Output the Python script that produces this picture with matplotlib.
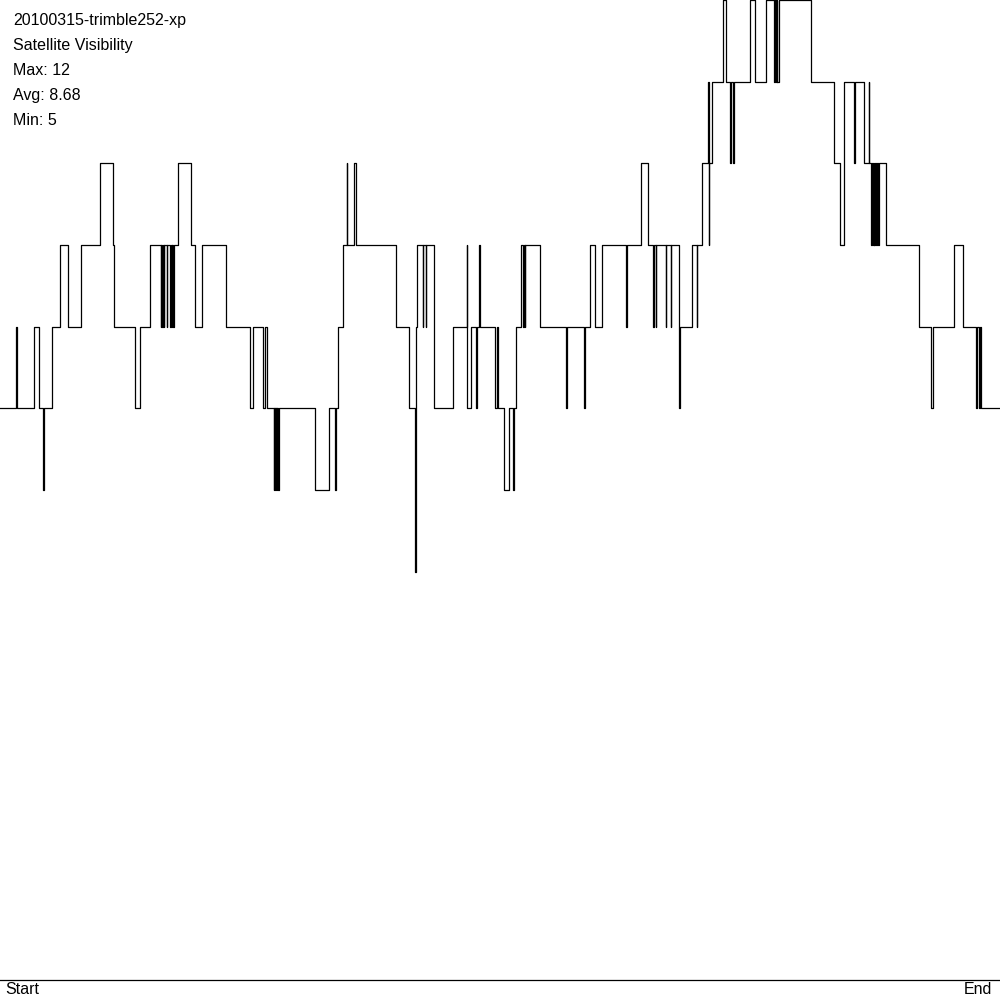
import matplotlib
matplotlib.use("Agg")
import matplotlib.pyplot as plt

# Satellite count changes: (time, count) - count holds from that time on
t_change = [
    0, 16, 16.8, 34.3, 39.3, 43.3, 43.8, 52.3, 60.3, 68.3, 81.3, 100.3, 113.3, 114.3,
    135.3, 140.3, 150.3,
    160.5, 161.0, 162.0, 162.5, 163.5, 164.0, 167.0, 167.4, 170.3, 170.8, 171.7, 172.2, 173.3, 173.7,
    178.3, 191.3, 195.3, 202.3, 226.3, 250.3, 253.3, 263.3, 265.3, 267.3,
    273.5, 274.2, 274.5, 275.2, 275.5, 276.2, 276.5, 277.2, 277.5, 278.5,
    315.3, 329.3, 335.3, 336.0, 338.3, 343.3, 346.5, 347.3, 354.3, 356.0,
    395.7, 409.3, 415.0, 415.6, 417.3, 423.0, 423.4, 426.0, 426.4, 433.7,
    452.7, 466.7, 467.0, 470.7, 475.5, 476.5, 478.7, 480.3,
    495.3, 497.3, 497.8, 504.3, 509.3, 513.3, 513.6, 516.3, 521.3,
    523.3, 524.3, 524.8, 525.3, 540.3, 566.3, 566.6, 584.0, 584.7, 590.3, 595.3,
    602.3, 625.7, 627.3, 641.3, 648.3,
    652.9, 653.6, 655.6, 656.3, 665.7, 666.0, 670.7, 671.0, 679.3, 679.6,
    692.3, 696.5, 697.2, 702.0, 708.3, 708.5, 708.8, 712.3, 723.3, 726.3,
    729.8, 730.6, 733.0, 734.0, 749.7, 755.3, 765.7,
    774.0, 775.0, 775.5, 776.5, 777.0, 778.7, 811.3, 834.3, 840.3, 844.3,
    854.3, 854.6, 864.3, 868.7, 869.0,
    871.0, 872.0, 872.5, 873.5, 874.0, 875.0, 875.5, 876.7, 878.3, 878.6,
    885.7, 919.3, 931.0, 933.0, 954.3, 963.3, 975.7, 977.3, 979.0, 979.7, 981.3, 1000,
]
sats = [
    7, 8, 7, 8, 7, 6, 7, 8, 9, 8, 9, 10, 9, 8,
    7, 8, 9,
    8, 9, 8, 9, 8, 9, 8, 9, 8, 9, 8, 9, 8, 9,
    10, 9, 8, 9, 8, 7, 8, 7, 8, 7,
    6, 7, 6, 7, 6, 7, 6, 7, 6, 7,
    6, 7, 6, 7, 8, 9, 10, 9, 10, 9,
    8, 7, 5, 8, 9, 8, 9, 8, 9, 7,
    8, 9, 7, 8, 7, 8, 9, 8,
    7, 8, 7, 6, 7, 6, 7, 8, 9,
    8, 9, 8, 9, 8, 7, 8, 7, 8, 9, 8,
    9, 8, 9, 10, 9,
    8, 9, 8, 9, 8, 9, 8, 9, 7, 8,
    9, 8, 9, 10, 11, 9, 10, 11, 12, 11,
    10, 11, 10, 11, 12, 11, 12,
    11, 12, 11, 12, 11, 12, 11, 10, 9, 11,
    10, 11, 10, 11, 10,
    9, 10, 9, 10, 9, 10, 9, 10, 9, 10,
    9, 8, 7, 8, 9, 8, 7, 8, 7, 8, 7, 7,
]

title_lines = ["20100315-trimble252-xp", "Satellite Visibility",
               "Max: 12", "Avg: 8.68", "Min: 5"]

plt.rcParams['font.family'] = ['Liberation Sans', 'DejaVu Sans']

fig = plt.figure(figsize=(10, 10), dpi=100)
ax = fig.add_axes([0, 0, 1, 1])
ax.step(t_change, sats, where='post', color='black', lw=0.9, clip_on=False)
ax.axhline(0, color='black', lw=0.9)
ax.set_xlim(0, 1000)
ax.set_ylim(-20 / 81.67, 12.0)
ax.axis('off')

for i, s in enumerate(title_lines):
    fig.text(0.013, 1 - (20.5 + 25 * i) / 1000, s, fontsize=11.5, va='center', ha='left')
fig.text(0.005, 0.010, "Start", fontsize=11.5, va='center', ha='left')
fig.text(0.992, 0.010, "End", fontsize=11.5, va='center', ha='right')

fig.savefig("out.png", dpi=100, facecolor='white')
